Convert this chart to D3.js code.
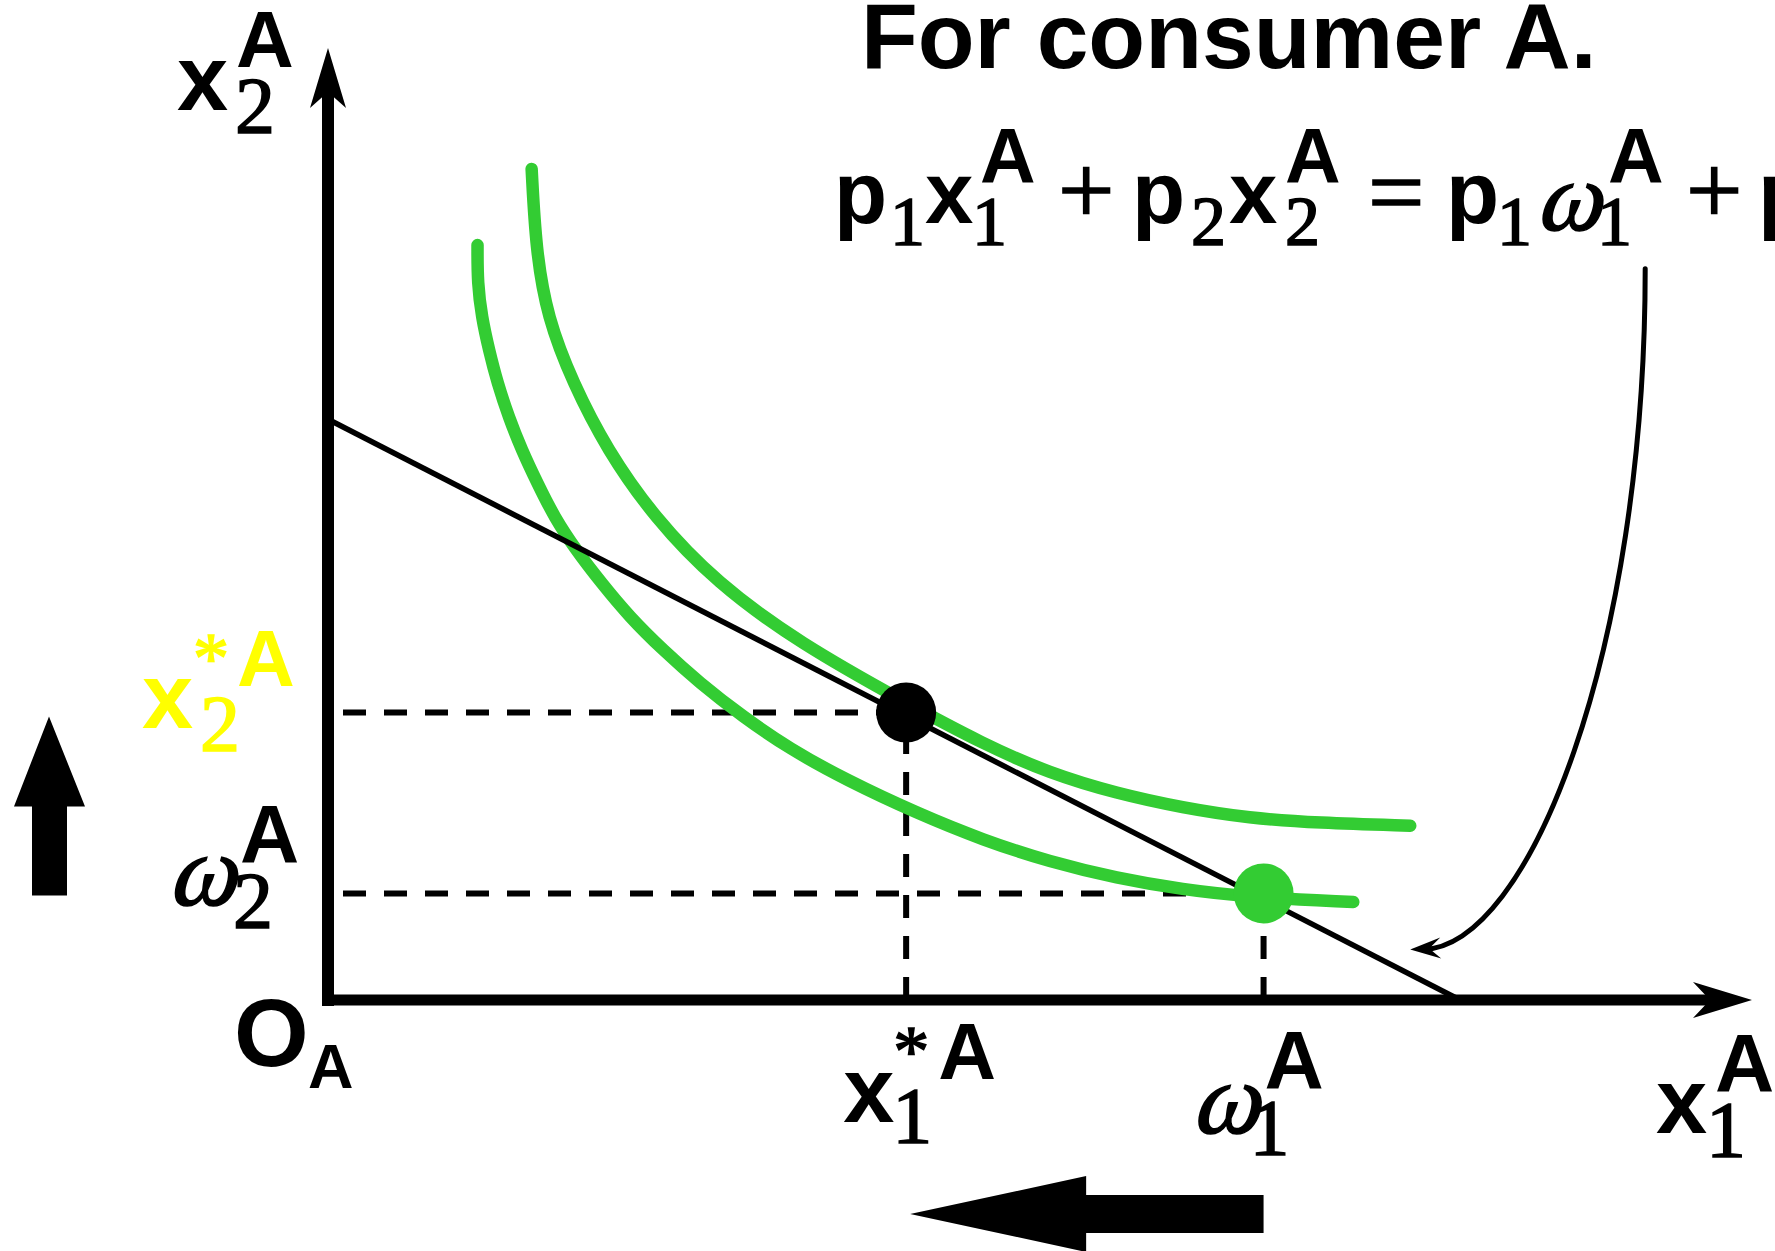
<!DOCTYPE html>
<html>
<head>
<meta charset="utf-8">
<script src="https://cdn.jsdelivr.net/npm/d3@7"></script>
<style>
  html, body { margin: 0; padding: 0; background: #fff; }
  svg { display: block; }
</style>
</head>
<body>
<div class="chart"></div>
<script>
// budget line p1 x1 + p2 x2 = p1 w1 + p2 w2 (intercepts)
var budgetX = [0, 7.95];
var budgetY = [6.10, 0];

// chosen bundle (x1*, x2*) and endowment (w1, w2)
var optimum = [4.06, 3.02];
var endowment = [6.57, 1.12];

// indifference curve through the endowment
var lowCurveX = [1.05, 1.05, 1.08, 1.13, 1.19, 1.27, 1.36, 1.47, 1.59, 1.74, 1.92, 2.12, 2.35, 2.61, 2.91, 3.24, 3.64, 4.14, 4.60, 5.07, 5.54, 6.00, 6.47, 7.20];
var lowCurveY = [7.93, 7.53, 7.17, 6.83, 6.48, 6.12, 5.78, 5.43, 5.07, 4.73, 4.38, 4.02, 3.68, 3.33, 2.98, 2.64, 2.31, 1.96, 1.68, 1.45, 1.28, 1.16, 1.08, 1.03];

// higher indifference curve, tangent at the optimum
var highCurveX = [1.43, 1.46, 1.54, 1.72, 1.96, 2.29, 2.73, 3.31, 4.06, 4.60, 5.07, 5.54, 6.00, 6.47, 6.95, 7.60];
var highCurveY = [8.73, 7.88, 7.17, 6.48, 5.78, 5.07, 4.38, 3.75, 3.12, 2.69, 2.38, 2.17, 2.02, 1.91, 1.86, 1.83];

// pointer from the equation to the budget line (bezier control points)
var noteX = [9.25, 9.25, 8.44, 7.60];
var noteY = [7.68, 3.68, 0.55, 0.53];

(function() {
  'use strict';

  var width = 1775;
  var height = 1251;
  var green = "#33cc33";
  var SANS = "'Liberation Sans', Arial, sans-serif";
  var SERIF = "'Liberation Serif', 'Times New Roman', serif";

  var svg = d3.select(".chart").append("svg")
    .attr("width", width)
    .attr("height", height);

  var x = d3.scaleLinear().domain([0, 10]).range([328, 1752]);
  var y = d3.scaleLinear().domain([0, 10]).range([1000, 48]);

  var line = d3.line()
    .x(function(d) { return x(d[0]); })
    .y(function(d) { return y(d[1]); });

  var smooth = d3.line()
    .x(function(d) { return x(d[0]); })
    .y(function(d) { return y(d[1]); })
    .curve(d3.curveBasis);

  function put(str, px, py, size, kind, fill) {
    var t = svg.append("text")
      .attr("font-family", kind === "s" ? SANS : SERIF)
      .attr("font-weight", kind === "s" ? 700 : 400)
      .attr("font-size", size)
      .attr("fill", fill || "#000")
      .text(str);
    if (kind === "i") {
      // slanted like the italic omega of the original
      t.attr("transform", "translate(" + px + "," + py + ") skewX(-16)");
    } else {
      t.attr("x", px).attr("y", py);
    }
    if (kind !== "s") {
      // the serif glyphs in the original are set heavier
      t.attr("stroke", fill || "#000").attr("stroke-width", 1.6);
    }
    return t;
  }

  // dashed guides
  var dash = svg.append("g")
    .attr("stroke", "#000")
    .attr("stroke-width", 6)
    .attr("stroke-dasharray", "23,18")
    .attr("fill", "none");

  [optimum, endowment].forEach(function(p) {
    dash.append("path")
      .attr("stroke-dashoffset", 26)
      .attr("d", line([[0, p[1]], [p[0], p[1]]]));
    dash.append("path")
      .attr("d", line([[p[0], 0], [p[0], p[1]]]));
  });

  // indifference curves
  function pairs(xs, ys) {
    return xs.map(function(v, i) { return [v, ys[i]]; });
  }

  svg.selectAll(".indiff")
    .data([pairs(lowCurveX, lowCurveY), pairs(highCurveX, highCurveY)])
    .enter().append("path")
    .attr("class", "indiff")
    .attr("d", smooth)
    .attr("fill", "none")
    .attr("stroke", green)
    .attr("stroke-width", 12.5)
    .attr("stroke-linecap", "round");

  // budget line
  svg.append("path")
    .attr("d", line(pairs(budgetX, budgetY)))
    .attr("stroke", "#000")
    .attr("stroke-width", 5.5)
    .attr("fill", "none");

  // axes
  svg.append("line")
    .attr("x1", x(0)).attr("y1", y(0) + 6)
    .attr("x2", x(0)).attr("y2", y(10) + 44)
    .attr("stroke", "#000").attr("stroke-width", 12);
  svg.append("line")
    .attr("x1", x(0) - 6).attr("y1", y(0))
    .attr("x2", x(10) - 42).attr("y2", y(0))
    .attr("stroke", "#000").attr("stroke-width", 11);

  svg.append("path")
    .attr("d", "M" + x(0) + "," + y(10) + "l18,60l-18,-16l-18,16z");
  svg.append("path")
    .attr("d", "M" + x(10) + "," + y(0) + "l-59,-18l17,18l-17,18z");

  // points
  svg.append("circle")
    .attr("cx", x(optimum[0])).attr("cy", y(optimum[1]))
    .attr("r", 30).attr("fill", "#000");
  svg.append("circle")
    .attr("cx", x(endowment[0])).attr("cy", y(endowment[1]))
    .attr("r", 30).attr("fill", green);

  // curved pointer
  var p = d3.path();
  p.moveTo(x(noteX[0]), y(noteY[0]));
  p.bezierCurveTo(x(noteX[1]), y(noteY[1]), x(noteX[2]), y(noteY[2]), x(noteX[3]) + 12, y(noteY[3]));
  svg.append("path")
    .attr("d", p.toString())
    .attr("fill", "none")
    .attr("stroke", "#000")
    .attr("stroke-width", 5)
    .attr("stroke-linecap", "round");
  svg.append("path")
    .attr("transform", "translate(" + x(noteX[3]) + "," + y(noteY[3]) + ")")
    .attr("d", "M0,0L30,-12L19,-1L31,9z");

  // movement arrows (from endowment to optimum)
  var ax = 49;
  var up = [[ax, y(optimum[1]) + 4], [ax + 36, y(optimum[1]) + 94], [ax + 18, y(optimum[1]) + 94],
            [ax + 18, y(endowment[1]) + 2], [ax - 17, y(endowment[1]) + 2],
            [ax - 17, y(optimum[1]) + 94], [ax - 35, y(optimum[1]) + 94]];
  svg.append("path").attr("d", "M" + up.join("L") + "Z");

  var ay = 1214;
  var left = [[x(optimum[0]) + 4, ay], [x(optimum[0]) + 180, ay - 38], [x(optimum[0]) + 180, ay - 19],
              [x(endowment[0]), ay - 19], [x(endowment[0]), ay + 19],
              [x(optimum[0]) + 180, ay + 19], [x(optimum[0]) + 180, ay + 38]];
  svg.append("path").attr("d", "M" + left.join("L") + "Z");

  // title and budget equation
  put("For consumer A.", 861, 68, 93, "s");

  put("p", 834, 223, 87, "s");
  put("1", 890, 245, 70, "r");
  put("x", 925, 223, 87, "s");
  put("1", 972, 245, 70, "r");
  put("A", 980, 183, 77, "s");
  put("+", 1058, 224, 100, "r");
  put("p", 1132, 223, 87, "s");
  put("2", 1191, 245, 70, "r");
  put("x", 1229, 223, 87, "s");
  put("2", 1285, 245, 70, "r");
  put("A", 1285, 183, 77, "s");
  put("=", 1368, 226, 100, "r");
  put("p", 1446, 223, 87, "s");
  put("1", 1497, 245, 70, "r");
  put("\u03c9", 1535, 230, 98, "i");
  put("1", 1597, 245, 70, "r");
  put("A", 1608, 183, 77, "s");
  put("+", 1686, 224, 100, "r");
  put("p", 1758, 223, 87, "s");

  // axis labels
  put("x", 177, 110, 92, "s");
  put("2", 235, 133, 80, "r");
  put("A", 236, 67, 80, "s");

  put("x", 1656, 1133, 92, "s");
  put("1", 1706, 1157, 80, "r");
  put("A", 1715, 1091, 82, "s");

  put("O", 234, 1066, 96, "s");
  put("A", 308, 1088, 63, "s");

  // tick-style labels
  var yo = y(optimum[1]);
  put("x", 142, yo + 16, 92, "s", "#ffff00");
  put("*", 193, yo - 30, 72, "r", "#ffff00");
  put("2", 200, yo + 39, 80, "r", "#ffff00");
  put("A", 237, yo - 26, 80, "s", "#ffff00");

  var ye = y(endowment[1]);
  put("\u03c9", 167, ye + 12, 102, "i");
  put("2", 233, ye + 35, 80, "r");
  put("A", 240, ye - 31, 82, "s");

  var xo = x(optimum[0]);
  put("x", xo - 63, 1122, 92, "s");
  put("*", xo - 13, 1075, 72, "r");
  put("1", xo - 14, 1143, 80, "r");
  put("A", xo + 32, 1079, 80, "s");

  var xe = x(endowment[0]);
  put("\u03c9", xe - 73, 1133, 102, "i");
  put("1", xe - 14, 1155, 80, "r");
  put("A", xe + 1, 1088, 82, "s");

})();
</script>
</body>
</html>
